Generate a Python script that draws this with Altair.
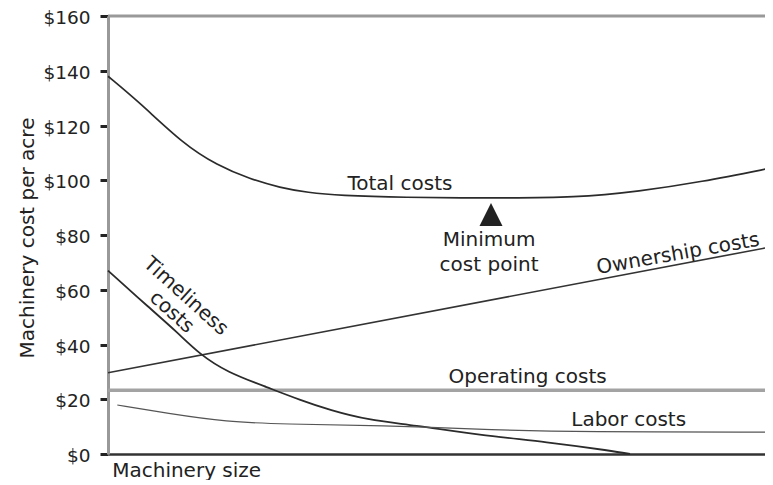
import altair as alt
import pandas as pd

# ---- data ----
total_x = [0, 4.8, 11.3, 16.4, 21.4, 25.9, 30, 35, 43.9, 58.9, 70.2, 80, 89, 100]
total_y = [138, 128.3, 113.3, 105.5, 100.4, 97.3, 95.5, 94.4, 93.7, 93.5, 93.6, 96.0, 99.3, 104.6]

time_x = [0, 6.3, 10.4, 13.8, 17.9, 23.9, 28.9, 33.4, 39.1, 45.9, 55.9, 66.0, 75.9, 78.5]
time_y = [67, 53.2, 44.5, 36.4, 29.9, 24.4, 19.7, 16.0, 12.4, 10.6, 6.9, 4.4, 1.1, 0]

labor_x = [1.4, 8.9, 17.9, 26.3, 40.9, 58.5, 71, 100]
labor_y = [17.9, 14.9, 11.7, 10.9, 10.5, 8.7, 8.1, 8.0]

own_x = [0, 100]
own_y = [29.7, 75.8]

oper_x = [0, 100]
oper_y = [23.3, 23.3]

top_x = [0, 100]
top_y = [160, 160]

y_ticks = [0, 20, 40, 60, 80, 100, 120, 140, 160]

min_x = [57.6]
min_y = [87.5]

label_text = ["Total costs", "Minimum", "cost point", "Ownership costs",
              "Timeliness", "costs", "Operating costs", "Labor costs"]
label_x = [43.9, 57.3, 57.3, 85.7, 11.7, 9.6, 63.1, 78.3]
label_y = [98.8, 78.0, 68.9, 73.1, 57.6, 51.8, 28.2, 12.6]
label_angle = [0, 0, 0, 350, 42, 42, 0, 0]

FONT = "DejaVu Sans"
TXT = "#222222"

# the visible window of the reference ends a little before x = 100
xs = alt.Scale(domain=[0, 98.8], nice=False, zero=False)
ys = alt.Scale(domain=[0, 160], nice=False)

x_axis = alt.Axis(labels=False, ticks=False, grid=False, domainColor="#333333",
                  domainWidth=2.5, title="Machinery size", titleX=3.7, titleY=22,
                  titleAlign="left", titleBaseline="alphabetic", titleFont=FONT,
                  titleFontSize=20, titleFontWeight="normal", titleColor=TXT)
y_axis = alt.Axis(values=y_ticks, labelExpr="'$' + datum.value", labelFont=FONT,
                  labelFontSize=18.5, labelColor=TXT, labelPadding=10, labelFlush=False,
                  labelOffset=1.5, labelOverlap=False, tickColor="#222222",
                  tickWidth=3, tickSize=8, domainColor="#999999", domainWidth=3,
                  grid=False, title="Machinery cost per acre", titleFont=FONT,
                  titleFontSize=20, titleFontWeight="normal", titleColor=TXT,
                  titleX=-81, titleY=221.5, titleAngle=270, titleAlign="center",
                  titleBaseline="middle")


def line(xv, yv, color, width, interp="basis", axes=False):
    df = pd.DataFrame({"x": xv, "y": yv})
    if axes:
        enc_x = alt.X("x:Q", scale=xs, axis=x_axis)
        enc_y = alt.Y("y:Q", scale=ys, axis=y_axis)
    else:
        enc_x = alt.X("x:Q", scale=xs)
        enc_y = alt.Y("y:Q", scale=ys)
    return alt.Chart(df).mark_line(color=color, strokeWidth=width,
                                   interpolate=interp).encode(x=enc_x, y=enc_y)


top = line(top_x, top_y, "#999999", 3, "linear", axes=True)
oper = line(oper_x, oper_y, "#a3a3a3", 3.5, "linear")
own = line(own_x, own_y, "#333333", 1.6, "linear")
total = line(total_x, total_y, "#2b2b2b", 1.7)
timel = line(time_x, time_y, "#2b2b2b", 1.8)
labor = line(labor_x, labor_y, "#555555", 1.2)

tri = alt.Chart(pd.DataFrame({"x": min_x, "y": min_y})).mark_point(
    shape="M-1,1L0,-1L1,1Z", filled=True, size=529, color="#222222", opacity=1
).encode(x=alt.X("x:Q", scale=xs), y=alt.Y("y:Q", scale=ys))

labels = alt.Chart(pd.DataFrame({"t": label_text, "x": label_x, "y": label_y,
                                 "a": label_angle})).mark_text(
    font=FONT, fontSize=20, color=TXT, align="center", baseline="middle"
).encode(x=alt.X("x:Q", scale=xs), y=alt.Y("y:Q", scale=ys), text="t:N",
         angle=alt.Angle("a:Q", scale=None))

chart = alt.layer(top, oper, own, total, timel, labor, tri, labels).properties(
    width=657, height=438,
    autosize=alt.AutoSizeParams(type="none"),
    padding={"left": 100, "top": 8, "right": 0, "bottom": 26},
).configure_view(stroke=None).configure(background="white")

chart.save("out.html", embed_options={"renderer": "svg", "actions": False})
